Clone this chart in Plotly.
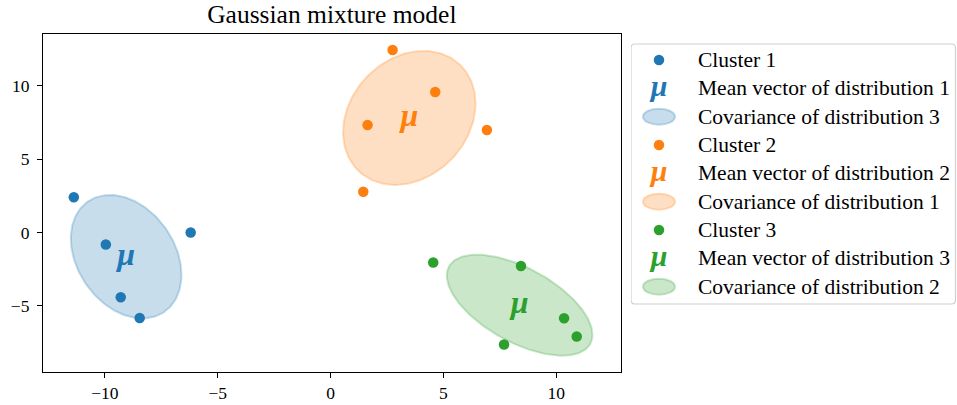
import numpy as np
import plotly.graph_objects as go

# ---------------- data ----------------
cluster_names = ["Cluster 1", "Cluster 2", "Cluster 3"]
cluster1_x = [-11.38, -9.96, -6.20, -9.30, -8.46]
cluster1_y = [2.40, -0.82, 0.00, -4.41, -5.82]
cluster2_x = [2.75, 4.64, 1.64, 6.93, 1.45]
cluster2_y = [12.42, 9.56, 7.31, 6.97, 2.77]
cluster3_x = [4.55, 8.44, 10.35, 10.91, 7.69]
cluster3_y = [-2.04, -2.28, -5.84, -7.08, -7.63]

mean_x = [-9.06, 3.49, 8.38]
mean_y = [-1.65, 7.80, -4.95]

# covariance ellipse shape matrices [[sxx, sxy], [sxy, syy]]
ellipse_sxx = [6.01, 8.62, 10.42]
ellipse_sxy = [-3.02, 2.87, -6.50]
ellipse_syy = [17.67, 20.83, 11.83]

mean_labels = ["Mean vector of distribution 1",
               "Mean vector of distribution 2",
               "Mean vector of distribution 3"]
cov_labels = ["Covariance of distribution 3",
              "Covariance of distribution 1",
              "Covariance of distribution 2"]

x_ticks = [-10, -5, 0, 5, 10]
y_ticks = [-5, 0, 5, 10]
title_text = "Gaussian mixture model"

# ---------------- style ----------------
colors = ["#1f77b4", "#ff7f0e", "#2ca02c"]
rgb = [(31, 119, 180), (255, 127, 14), (44, 160, 44)]
FONT = "Liberation Serif"
W, H = 957, 405
ML, MR, MT, MB = 43, 0, 34, 33
plot_right_px = 620.7
legend_left_px = 631.0

clusters_x = [cluster1_x, cluster2_x, cluster3_x]
clusters_y = [cluster1_y, cluster2_y, cluster3_y]

fig = go.Figure()

# covariance ellipses
t = np.linspace(0, 2 * np.pi, 200)
for i in range(3):
    S = np.array([[ellipse_sxx[i], ellipse_sxy[i]], [ellipse_sxy[i], ellipse_syy[i]]])
    L = np.linalg.cholesky(S)
    pts = L @ np.vstack([np.cos(t), np.sin(t)])
    r, g, b = rgb[i]
    fig.add_trace(go.Scatter(
        x=mean_x[i] + pts[0], y=mean_y[i] + pts[1],
        mode="lines", fill="toself",
        fillcolor=f"rgba({r},{g},{b},0.25)",
        line=dict(color=f"rgba({r},{g},{b},0.25)", width=2),
        hoverinfo="skip", showlegend=False, xaxis="x", yaxis="y"))

# cluster points
for i in range(3):
    fig.add_trace(go.Scatter(
        x=clusters_x[i], y=clusters_y[i], mode="markers",
        marker=dict(color=colors[i], size=10.5, line=dict(width=0)),
        name=cluster_names[i], showlegend=False, xaxis="x", yaxis="y"))

# means
for i in range(3):
    fig.add_trace(go.Scatter(
        x=[mean_x[i]], y=[mean_y[i]], mode="text",
        text=["<b><i>μ</i></b>"], textposition="middle center",
        textfont=dict(family=FONT, size=32, color=colors[i]),
        name=mean_labels[i], showlegend=False, xaxis="x", yaxis="y"))

# ---------------- manual legend (axes x2/y2 in pixel units) ----------------
row0, row_gap = 60.0, 28.33
sym_x, txt_x = 659.0, 696.0
shapes = []
annotations = []
# legend frame (rounded)
bx0, bx1, by0, by1, rad = legend_left_px, 955.5, 44.0, 304.0, 4.0
path = (f"M {bx0+rad},{by0} L {bx1-rad},{by0} Q {bx1},{by0} {bx1},{by0+rad} "
        f"L {bx1},{by1-rad} Q {bx1},{by1} {bx1-rad},{by1} L {bx0+rad},{by1} "
        f"Q {bx0},{by1} {bx0},{by1-rad} L {bx0},{by0+rad} Q {bx0},{by0} {bx0+rad},{by0} Z")
shapes.append(dict(type="path", path=path, xref="x2", yref="y2",
                   fillcolor="rgba(255,255,255,0.8)",
                   line=dict(color="#d0d0d0", width=1.2), layer="below"))

labels = []
for i in range(3):
    labels += [("dot", i, cluster_names[i]), ("mu", i, mean_labels[i]), ("ell", i, cov_labels[i])]

for k, (kind, i, lab) in enumerate(labels):
    yk = row0 + k * row_gap
    r, g, b = rgb[i]
    if kind == "dot":
        fig.add_trace(go.Scatter(x=[sym_x], y=[yk], mode="markers",
                                 marker=dict(color=colors[i], size=10.5, line=dict(width=0)),
                                 showlegend=False, hoverinfo="skip", xaxis="x2", yaxis="y2"))
    elif kind == "mu":
        fig.add_trace(go.Scatter(x=[sym_x], y=[yk], mode="text",
                                 text=["<b><i>μ</i></b>"], textposition="middle center",
                                 textfont=dict(family=FONT, size=30, color=colors[i]),
                                 showlegend=False, hoverinfo="skip", xaxis="x2", yaxis="y2"))
    else:
        shapes.append(dict(type="circle", xref="x2", yref="y2",
                           x0=sym_x - 16, x1=sym_x + 16, y0=yk - 8, y1=yk + 8,
                           fillcolor=f"rgba({r},{g},{b},0.25)",
                           line=dict(color=f"rgba({r},{g},{b},0.25)", width=2)))
    annotations.append(dict(x=txt_x, y=yk, xref="x2", yref="y2", text=lab,
                            showarrow=False, xanchor="left", yanchor="middle",
                            font=dict(family=FONT, size=21.5, color="black")))

paper_w = W - ML - MR
x_dom_right = (plot_right_px - ML) / paper_w
x2_dom_left = (legend_left_px - ML) / paper_w
axes_center = (ML + plot_right_px) / 2

axis_common = dict(showline=True, mirror=True, linecolor="black", linewidth=1.2,
                   ticks="outside", ticklen=5, tickwidth=1.2, tickcolor="black",
                   showgrid=False, zeroline=False,
                   tickfont=dict(family=FONT, size=17.5, color="black"))

fig.update_layout(
    width=W, height=H,
    margin=dict(l=ML, r=MR, t=MT, b=MB, pad=0),
    paper_bgcolor="white", plot_bgcolor="white",
    showlegend=False,
    title=dict(text=title_text, x=(axes_center - ML) / paper_w, xref="paper",
               xanchor="center", y=1 - 14 / H, yanchor="middle",
               font=dict(family=FONT, size=25.5, color="black")),
    xaxis=dict(domain=[0, x_dom_right], range=[-12.745, 12.86],
               tickvals=x_ticks, anchor="y", **axis_common),
    yaxis=dict(domain=[0, 1], range=[-9.50, 13.51],
               tickvals=y_ticks, anchor="x", ticklabelstandoff=4, **axis_common),
    xaxis2=dict(domain=[x2_dom_left, 1], range=[legend_left_px, W],
                visible=False, anchor="y2", fixedrange=True),
    yaxis2=dict(domain=[0, 1], range=[H - MB, MT], visible=False,
                anchor="x2", fixedrange=True),
    shapes=shapes, annotations=annotations,
)

fig.write_html("out.html", config={"displayModeBar": False},
               post_script="document.body.style.margin='0';document.body.style.overflow='hidden';")
